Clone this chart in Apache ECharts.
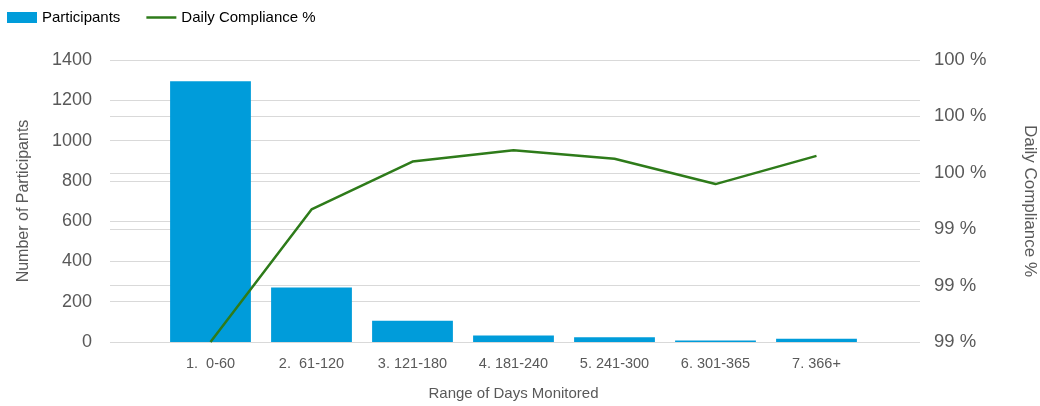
<!DOCTYPE html>
<html><head><meta charset="utf-8">
<script src="https://cdn.jsdelivr.net/npm/echarts@6/dist/echarts.min.js"></script>
<style>html,body{margin:0;padding:0;background:#fff}#c{width:1040px;height:406px}</style>
</head><body><div id="c"></div>
<script>
const categories = ['1.  0-60', '2.  61-120', '3. 121-180', '4. 181-240', '5. 241-300', '6. 301-365', '7. 366+'];
const participants = [1295, 270, 105, 32, 24, 7, 16];
const compliance = [99.0, 99.47, 99.64, 99.68, 99.65, 99.56, 99.66];
const leftTicks = { min: 0, max: 1400, interval: 200 };
const rightTicks = { min: 99.0, max: 100.0, interval: 0.2 };

const txt = '#595959';
const grid = '#d9d9d9';
const chart = echarts.init(document.getElementById('c'));
chart.setOption({
  animation: false,
  textStyle: { fontFamily: 'Liberation Sans, Arial, sans-serif' },
  legend: {
    left: 2, top: 5, itemGap: 26, itemWidth: 30, itemHeight: 11,
    textStyle: { fontSize: 15, color: '#000' },
    data: [
      { name: 'Participants', icon: 'rect' },
      { name: 'Daily Compliance %', icon: 'path://M0,0 L30,0 L30,2.5 L0,2.5 Z' }
    ]
  },
  grid: [
    { left: 110, right: 120, top: 60, bottom: 64, outerBoundsMode: 'none' },
    { left: 160, right: 173, top: 60, bottom: 64, outerBoundsMode: 'none' }
  ],
  xAxis: [
    { type: 'category', gridIndex: 0, data: categories, show: false },
    { type: 'category', gridIndex: 1, data: categories,
      axisLine: { show: false }, axisTick: { show: false },
      axisLabel: { color: txt, fontSize: 14.5, margin: 14 },
      name: 'Range of Days Monitored', nameLocation: 'middle', nameGap: 44,
      nameTextStyle: { color: txt, fontSize: 15 } }
  ],
  yAxis: [
    { type: 'value', gridIndex: 0, position: 'left', ...leftTicks,
      axisLabel: { color: txt, fontSize: 18, margin: 18, formatter: v => String(v) },
      splitLine: { lineStyle: { color: grid } }, axisLine: { show: false }, axisTick: { show: false },
      name: 'Number of Participants', nameLocation: 'middle', nameGap: 78,
      nameTextStyle: { color: txt, fontSize: 16 } },
    { type: 'value', gridIndex: 0, position: 'right', ...rightTicks,
      axisLabel: { color: txt, fontSize: 18.5, margin: 14, formatter: v => Math.round(v) + ' %' },
      splitLine: { lineStyle: { color: grid } }, axisLine: { show: false }, axisTick: { show: false },
      name: 'Daily Compliance %', nameLocation: 'middle', nameGap: 101, nameRotate: -90,
      nameTextStyle: { color: txt, fontSize: 17 } },
    { type: 'value', gridIndex: 1, ...leftTicks, show: false, splitLine: { show: false } },
    { type: 'value', gridIndex: 1, ...rightTicks, show: false, splitLine: { show: false } }
  ],
  series: [
    { name: 'Participants', type: 'bar', xAxisIndex: 1, yAxisIndex: 2, data: participants,
      barCategoryGap: '20%', itemStyle: { color: '#009CDA' } },
    { name: 'Daily Compliance %', type: 'line', xAxisIndex: 1, yAxisIndex: 3, data: compliance,
      symbol: 'none', lineStyle: { color: '#2E7B1A', width: 2.5 }, itemStyle: { color: '#2E7B1A' } }
  ]
});
</script></body></html>
